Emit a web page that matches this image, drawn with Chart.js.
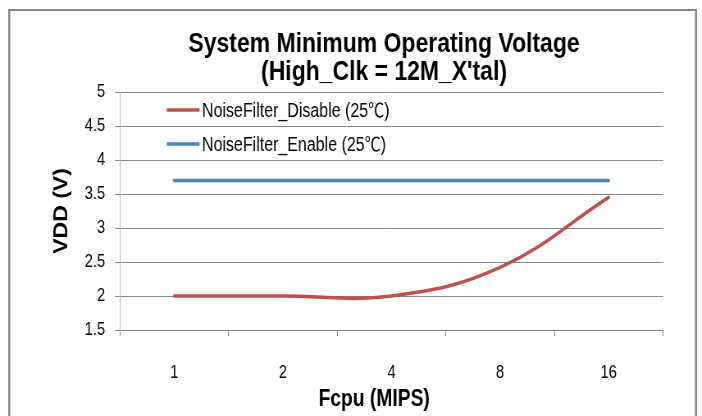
<!DOCTYPE html>
<html>
<head>
<meta charset="utf-8">
<title>System Minimum Operating Voltage</title>
<script src="https://cdn.jsdelivr.net/npm/chart.js@4/dist/chart.umd.min.js"></script>
<style>
    html, body { margin: 0; padding: 0; background: #fff; overflow: hidden; }
    /* the sheet is laid out wide and then narrowed, like the condensed export */
    #vdd { display: block; transform: scaleX(0.82); transform-origin: 0 0; }
</style>
</head>
<body>
<canvas id="vdd" width="856" height="416"></canvas>
<script>
const fcpu = ["1", "2", "4", "8", "16"];
const vddDisable = [2.0, 2.0, 2.0, 2.42, 3.45];
const vddEnable = [3.7, 3.7, 3.7, 3.7, 3.7];
const seriesNames = ["NoiseFilter_Disable (25℃)", "NoiseFilter_Enable (25℃)"];
const titleLines = ["System Minimum Operating Voltage", "(High_Clk = 12M_X'tal)"];
const xTitle = "Fcpu (MIPS)";
const yTitle = "VDD (V)";

const gridGray = "#868686";
const face = "'Liberation Sans', Arial, 'Noto Sans CJK KR', sans-serif";

// frame, titles and the in-plot legend
const sheet = {
    id: "sheet",
    beforeDraw: (chart)=> {
        let ctx = chart.ctx;
        ctx.save();
        ctx.fillStyle = "#fff";
        ctx.fillRect(0, 0, chart.width, chart.height);
        ctx.fillStyle = "#878787";
        ctx.fillRect(10, 9, 840, 2);
        ctx.fillRect(10, 9, 2.5, 420);
        ctx.fillRect(847.5, 9, 2.5, 420);
        ctx.restore();
    },
    afterDraw: (chart)=> {
        let ctx = chart.ctx;
        let area = chart.chartArea;
        ctx.save();
        ctx.fillStyle = "#000";
        ctx.textAlign = "center";
        ctx.textBaseline = "alphabetic";
        ctx.font = "bold 28px " + face;
        ctx.fillText(titleLines[0], area.left + 322, 52);
        ctx.fillText(titleLines[1], area.left + 322, 80);
        ctx.font = "bold 23.5px " + face;
        ctx.fillText(xTitle, area.left + 310, 406);

        ctx.textAlign = "left";
        ctx.textBaseline = "middle";
        ctx.font = "19.5px " + face;
        chart.data.datasets.forEach((ds, i)=> {
            let y = area.top + 18 + i * 34;
            ctx.strokeStyle = ds.borderColor;
            ctx.lineWidth = 3.5;
            ctx.beginPath();
            ctx.moveTo(area.left + 57, y);
            ctx.lineTo(area.left + 97, y);
            ctx.stroke();
            ctx.fillText(ds.label, area.left + 100, y + 1.5);
        });
        ctx.restore();
    }
};

window.onload = ()=> {
    new Chart("vdd", {
        type: "line",
        data: {
            labels: fcpu,
            datasets: [{
                label: seriesNames[0],
                data: vddDisable,
                borderColor: "#C0504D",
                borderWidth: 3.5,
                borderCapStyle: "round",
                tension: 0.4,
                pointRadius: 0
            }, {
                label: seriesNames[1],
                data: vddEnable,
                borderColor: "#4F81BD",
                borderWidth: 3.5,
                borderCapStyle: "round",
                pointRadius: 0
            }]
        },
        options: {
            responsive: false,
            animation: false,
            devicePixelRatio: 1,
            layout: {padding: {top: 92, right: 47.5, left: 0, bottom: 0}},
            plugins: {
                legend: {display: false},
                title: {display: false},
                tooltip: {enabled: false}
            },
            scales: {
                x: {
                    offset: true,
                    grid: {offset: true, drawOnChartArea: false, color: gridGray, tickLength: 6},
                    border: {color: gridGray},
                    ticks: {color: "#000", font: {family: face, size: 18}, padding: 26},
                    afterFit: (s)=> { s.height = 86; }
                },
                y: {
                    min: 1.5,
                    max: 5,
                    ticks: {
                        stepSize: 0.5,
                        color: "#000",
                        font: {family: face, size: 18},
                        padding: 12,
                        callback: (v)=> String(+v.toFixed(1))
                    },
                    grid: {color: gridGray, tickLength: 6},
                    border: {color: "#bdbdbd"},
                    title: {
                        display: true,
                        text: yTitle,
                        color: "#000",
                        font: {family: face, size: 23, weight: "bold"},
                        padding: {top: 62, bottom: 0}
                    },
                    afterFit: (s)=> { s.width = 146.3; }
                }
            }
        },
        plugins: [sheet]
    });
};
</script>
</body>
</html>
